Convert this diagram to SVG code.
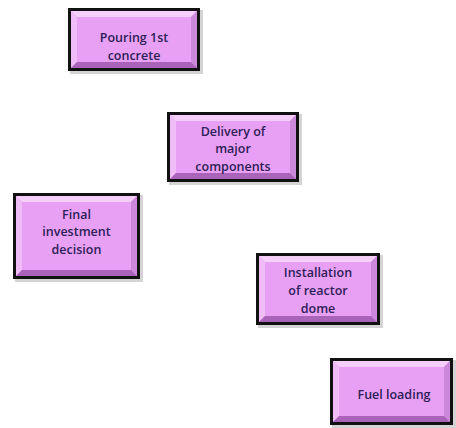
<svg xmlns="http://www.w3.org/2000/svg" width="456" height="428" viewBox="0 0 456 428">
<defs>
<style>
.shadow{fill:#d4d4d4;}
.border{fill:#111;}
.face{fill:#E8A0F4;}
.top{fill:#F5CEFA;}
.left{fill:#F0BCF7;}
.right{fill:#CC88DA;}
.bot{fill:#A963B8;}
.lbl{font-family:"Open Sans","Liberation Sans",sans-serif;font-size:12.5px;font-weight:600;fill:#2E2058;text-anchor:middle;}
</style>
</defs>
<rect width="456" height="428" fill="#ffffff"/>
<g id="n1" transform="translate(68,8)">
<rect class="shadow" x="2" y="2" width="133" height="64"/>
<rect class="border" x="0" y="0" width="132" height="63"/>
<rect class="face" x="3" y="3" width="126" height="57"/>
<polygon class="top" points="3,3 129,3 123,9 9,9"/>
<polygon class="left" points="3,3 9,9 9,54 3,60"/>
<polygon class="right" points="129,3 129,60 123,54 123,9"/>
<polygon class="bot" points="3,60 129,60 123,54 9,54"/>
<text class="lbl" x="66" y="33.5">Pouring 1st</text>
<text class="lbl" x="66" y="51.5">concrete</text>
</g>
<g id="n2" transform="translate(167,112)">
<rect class="shadow" x="2" y="2" width="133" height="71"/>
<rect class="border" x="0" y="0" width="132" height="70"/>
<rect class="face" x="3" y="3" width="126" height="64"/>
<polygon class="top" points="3,3 129,3 123,9 9,9"/>
<polygon class="left" points="3,3 9,9 9,61 3,67"/>
<polygon class="right" points="129,3 129,67 123,61 123,9"/>
<polygon class="bot" points="3,67 129,67 123,61 9,61"/>
<text class="lbl" x="66" y="23.5">Delivery of</text>
<text class="lbl" x="66" y="40.5">major</text>
<text class="lbl" x="66" y="58.5">components</text>
</g>
<g id="n3" transform="translate(13,193)">
<rect class="shadow" x="2" y="2" width="128" height="87"/>
<rect class="border" x="0" y="0" width="127" height="86"/>
<rect class="face" x="3" y="3" width="121" height="80"/>
<polygon class="top" points="3,3 124,3 118,9 9,9"/>
<polygon class="left" points="3,3 9,9 9,77 3,83"/>
<polygon class="right" points="124,3 124,83 118,77 118,9"/>
<polygon class="bot" points="3,83 124,83 118,77 9,77"/>
<text class="lbl" x="63.5" y="25.5">Final</text>
<text class="lbl" x="63.5" y="42.5">investment</text>
<text class="lbl" x="63.5" y="60.5">decision</text>
</g>
<g id="n4" transform="translate(256,253)">
<rect class="shadow" x="2" y="2" width="125" height="73"/>
<rect class="border" x="0" y="0" width="124" height="72"/>
<rect class="face" x="3" y="3" width="118" height="66"/>
<polygon class="top" points="3,3 121,3 115,9 9,9"/>
<polygon class="left" points="3,3 9,9 9,63 3,69"/>
<polygon class="right" points="121,3 121,69 115,63 115,9"/>
<polygon class="bot" points="3,69 121,69 115,63 9,63"/>
<text class="lbl" x="62" y="23.5">Installation</text>
<text class="lbl" x="62" y="41.5">of reactor</text>
<text class="lbl" x="62" y="59.5">dome</text>
</g>
<g id="n5" transform="translate(330,358)">
<rect class="shadow" x="2" y="2" width="124" height="68"/>
<rect class="border" x="0" y="0" width="123" height="67"/>
<rect class="face" x="3" y="3" width="117" height="61"/>
<polygon class="top" points="3,3 120,3 114,9 9,9"/>
<polygon class="left" points="3,3 9,9 9,58 3,64"/>
<polygon class="right" points="120,3 120,64 114,58 114,9"/>
<polygon class="bot" points="3,64 120,64 114,58 9,58"/>
<text class="lbl" x="64" y="40.5">Fuel loading</text>
</g>
</svg>
